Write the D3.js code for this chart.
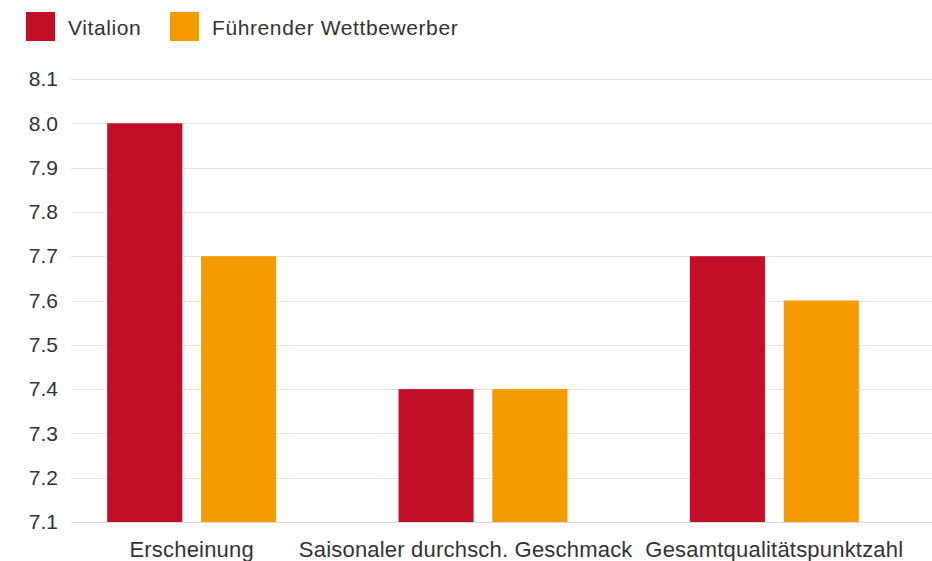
<!DOCTYPE html>
<html>
<head>
<meta charset="utf-8">
<script src="https://cdn.jsdelivr.net/npm/d3@7"></script>
<style>
  body { margin: 0; background: #fff; }
  text { font-family: "Liberation Sans", Arial, sans-serif; fill: #333; }
</style>
</head>
<body>
<div id="chart"></div>
<script>
// chart data
var categories = ["Erscheinung", "Saisonaler durchsch. Geschmack", "Gesamtqualitätspunktzahl"];
var seriesNames = ["Vitalion", "Führender Wettbewerber"];
var vitalion = [8.0, 7.4, 7.7];
var competitor = [7.7, 7.4, 7.6];
var yTicks = [7.1, 7.2, 7.3, 7.4, 7.5, 7.6, 7.7, 7.8, 7.9, 8.0, 8.1];
var colors = ["#c20e27", "#f59a00"];

var width = 932, height = 561;
var svg = d3.select("#chart").append("svg")
    .attr("width", width)
    .attr("height", height);

var y = d3.scaleLinear().domain([7.1, 8.1]).range([522, 79]);

var x0 = d3.scaleBand()
    .domain(categories)
    .range([46, 920])
    .paddingInner(0.42)
    .paddingOuter(0.21);

var x1 = d3.scaleBand()
    .domain(seriesNames)
    .range([0, x0.bandwidth()])
    .paddingInner(0.2)
    .paddingOuter(0);

//gridlines
svg.append("g").selectAll("line")
    .data(yTicks)
    .enter().append("line")
    .attr("x1", 71)
    .attr("x2", 932)
    .attr("y1", function(d){ return Math.round(y(d)) + 0.5; })
    .attr("y2", function(d){ return Math.round(y(d)) + 0.5; })
    .attr("stroke", function(d, i){ return i === 0 ? "#d8d8d8" : "#e4e4e4"; })
    .attr("stroke-width", 1);

//y labels
var yAxis = d3.axisLeft(y).tickValues(yTicks).tickFormat(d3.format(".1f")).tickSize(0).tickPadding(0);
var yg = svg.append("g").attr("transform", "translate(58,0)").call(yAxis);
yg.select(".domain").remove();
yg.selectAll("text")
    .style("font-size", "21px")
    .style("font-family", "'Liberation Sans', Arial, sans-serif")
    .attr("fill", "#333");

//bars
var rows = categories.map(function(c, i){
    return { cat: c, values: [
        { name: seriesNames[0], value: vitalion[i], color: colors[0] },
        { name: seriesNames[1], value: competitor[i], color: colors[1] }
    ]};
});

svg.append("g").selectAll("g")
    .data(rows)
    .enter().append("g")
    .attr("transform", function(d){ return "translate(" + x0(d.cat) + ",0)"; })
    .selectAll("rect")
    .data(function(d){ return d.values; })
    .enter().append("rect")
    .attr("x", function(d){ return x1(d.name); })
    .attr("width", x1.bandwidth())
    .attr("y", function(d){ return y(d.value); })
    .attr("height", function(d){ return y(7.1) - y(d.value); })
    .attr("fill", function(d){ return d.color; });

//x labels
var xAxis = d3.axisBottom(x0).tickSize(0).tickPadding(0);
var xg = svg.append("g").attr("transform", "translate(0,541)").call(xAxis);
xg.select(".domain").remove();
var xLabels = xg.selectAll("text")
    .style("font-size", "22px")
    .style("letter-spacing", "0.2px")
    .style("font-family", "'Liberation Sans', Arial, sans-serif")
    .attr("fill", "#333");

//push overlapping labels apart (leave a small gap)
var nodes = xLabels.nodes();
for(var i = nodes.length - 2; i >= 0; i--){
    var a = nodes[i].getBoundingClientRect();
    var b = nodes[i + 1].getBoundingClientRect();
    var overlap = a.right + 12 - b.left;
    if(overlap > 0){
        d3.select(nodes[i]).attr("dx", -overlap);
    }
}

//legend
var legend = svg.append("g").selectAll("g")
    .data(seriesNames)
    .enter().append("g")
    .attr("transform", function(d, i){ return "translate(" + [26, 170][i] + ",12)"; });
legend.append("rect")
    .attr("width", 29)
    .attr("height", 29)
    .attr("fill", function(d, i){ return colors[i]; });
legend.append("text")
    .attr("x", 42)
    .attr("y", 23)
    .style("font-size", "21px")
    .style("letter-spacing", "0.6px")
    .text(function(d){ return d; });
</script>
</body>
</html>
